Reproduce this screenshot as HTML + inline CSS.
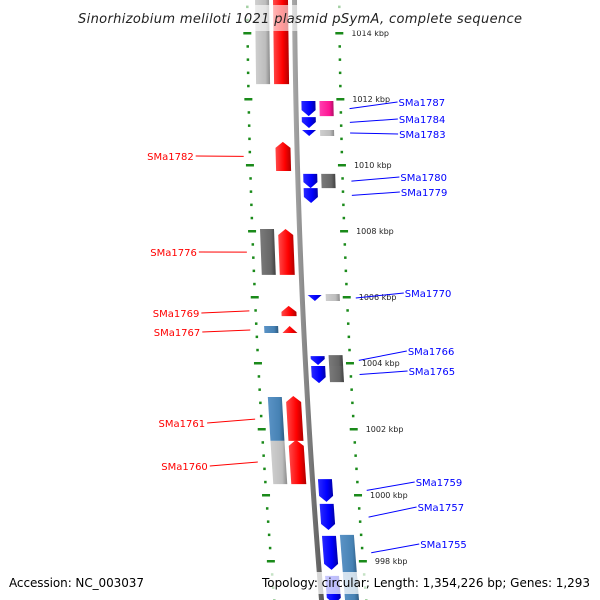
<!DOCTYPE html>
<html><head><meta charset="utf-8"><style>
html,body{margin:0;padding:0;background:#fff}
svg{display:block}
text{font-family:"DejaVu Sans","Liberation Sans",sans-serif}
</style></head><body>
<svg id="map" width="600" height="600" viewBox="0 0 600 600" xmlns="http://www.w3.org/2000/svg">
<defs>
<linearGradient id="gRed" x1="0" x2="1"><stop offset="0" stop-color="#ff4a4a"/><stop offset="0.6" stop-color="#ff0000"/><stop offset="1" stop-color="#b00000"/></linearGradient>
<linearGradient id="gBlue" x1="0" x2="1"><stop offset="0" stop-color="#2a2aff"/><stop offset="0.6" stop-color="#0000ff"/><stop offset="1" stop-color="#0000a8"/></linearGradient>
<linearGradient id="gGray" x1="0" x2="1"><stop offset="0" stop-color="#cfcfcf"/><stop offset="0.7" stop-color="#bdbdbd"/><stop offset="1" stop-color="#8a8a8a"/></linearGradient>
<linearGradient id="gDark" x1="0" x2="1"><stop offset="0" stop-color="#7a7a7a"/><stop offset="0.7" stop-color="#666"/><stop offset="1" stop-color="#404040"/></linearGradient>
<linearGradient id="gSteel" x1="0" x2="1"><stop offset="0" stop-color="#5b93c6"/><stop offset="0.7" stop-color="#4682b4"/><stop offset="1" stop-color="#2d5a80"/></linearGradient>
<linearGradient id="gPink" x1="0" x2="1"><stop offset="0" stop-color="#ff40b0"/><stop offset="0.7" stop-color="#ff1493"/><stop offset="1" stop-color="#b00e66"/></linearGradient>
<linearGradient id="gBack" x1="0" x2="1"><stop offset="0" stop-color="#aaa"/><stop offset="0.5" stop-color="#808080"/><stop offset="1" stop-color="#555"/></linearGradient>
</defs>
<g id="ticks"></g>
<g id="backbone"></g>
<g id="features"></g>
<g id="labels"></g>
<rect x="76" y="5" width="448" height="26" fill="#fff" opacity="0.6"/>
<text x="300" y="23" text-anchor="middle" font-size="13" font-style="italic" fill="#222" textLength="444">Sinorhizobium meliloti 1021 plasmid pSymA, complete sequence</text>
<rect x="256" y="572" width="338" height="22" fill="#fff" opacity="0.75"/>
<text x="9" y="587" font-size="12" fill="#000" textLength="135">Accession: NC_003037</text>
<text x="590" y="587" text-anchor="end" font-size="12" fill="#000" textLength="328">Topology: circular; Length: 1,354,226 bp; Genes: 1,293</text>
</svg>
<script>
// ruler data (kbp)
const majorTicks = [1014, 1012, 1010, 1008, 1006, 1004, 1002, 1000, 998];
const majorLabels = ["1014 kbp","1012 kbp","1010 kbp","1008 kbp","1006 kbp","1004 kbp","1002 kbp","1000 kbp","998 kbp"];
// feature arrays: name, start kbp (top), end kbp (bottom), column, kind, color
const featNames = ["top-gray","top-red","SMa1782","SMa1776-box","SMa1776","SMa1769","SMa1767-box","SMa1767","SMa1761-box","SMa1761","SMa1760-box","SMa1760",
 "SMa1787","SMa1787-box","SMa1784","SMa1783","SMa1783-box","SMa1780","SMa1780-box","SMa1779","SMa1770","SMa1770-box","SMa1766","SMa1766-box","SMa1765","SMa1765-box","SMa1759","SMa1757","SMa1755","SMa1755-box","bottom-blue","bottom-box"];
const featTop = [1015.2,1015.2,1010.70,1008.06,1008.06,1005.73,1005.12,1005.12,1002.97,1003.00,1001.64,1001.67,
 1011.94,1011.94,1011.45,1011.06,1011.06,1009.73,1009.73,1009.30,1006.06,1006.09,1004.21,1004.24,1003.91,1003.91,1000.48,999.73,998.76,998.79,997.55,997.55];
const featEnd = [1012.45,1012.45,1009.82,1006.67,1006.67,1005.42,1004.91,1004.91,1001.64,1001.64,1000.33,1000.33,
 1011.48,1011.48,1011.12,1010.88,1010.88,1009.30,1009.30,1008.85,1005.88,1005.88,1003.94,1003.91,1003.39,1003.42,999.79,998.94,997.73,997.27,996.7,996.7];
const featCol = ["A","B","B","A","B","B","A","B","A","B","A","B",
 "C","D","C","C","D","C","D","C","C","D","C","D","C","D","C","C","C","D","C","D"];
const featColor = ["gGray","gRed","gRed","gDark","gRed","gRed","gSteel","gRed","gSteel","gRed","gGray","gRed",
 "gBlue","gPink","gBlue","gBlue","gGray","gBlue","gDark","gBlue","gBlue","gGray","gBlue","gDark","gBlue","gDark","gBlue","gBlue","gBlue","gSteel","gBlue","gSteel"];
// labels
const labelNames = ["SMa1782","SMa1776","SMa1769","SMa1767","SMa1761","SMa1760","SMa1787","SMa1784","SMa1783","SMa1780","SMa1779","SMa1770","SMa1766","SMa1765","SMa1759","SMa1757","SMa1755"];
const labelKbp = [1010.26,1007.36,1005.58,1005.00,1002.30,1001.00,1011.71,1011.29,1010.97,1009.51,1009.08,1005.97,1004.08,1003.65,1000.14,999.33,998.25];
const labelSide = ["L","L","L","L","L","L","R","R","R","R","R","R","R","R","R","R","R"];
const labelTextY = [156,252,313,332,423,466,102,119,134,177,192,293,351,371,482,507,544];

const NS="http://www.w3.org/2000/svg";
function yOf(k){ return 33 + (1014 - k) * 33; }
function off(y){ return 0.0075*y + 6.25e-5*y*y; }
const colX = {A:[255,269], B:[273,288], C:[300,314], D:[318,332]};
function mk(tag, attrs, parent){ const e=document.createElementNS(NS,tag); for(const k in attrs) e.setAttribute(k,attrs[k]); parent.appendChild(e); return e; }

// backbone
const bb=document.getElementById('backbone');
let pts=[];
for(let y=-5;y<=605;y+=10) pts.push([292+off(y),y]);
let pts2=[];
for(let y=605;y>=-5;y-=10) pts2.push([297+off(y),y]);
const bbp=mk('polygon',{points:pts.concat(pts2).map(p=>p.join(',')).join(' '),fill:'url(#gBack)'},bb);



// ticks
const tg=document.getElementById('ticks');
for(let k=1015.2;k>=996.6;k-=0.4){
  const kk=Math.round(k*10)/10;
  const y=yOf(kk);
  const isMajor = majorTicks.some(m=>Math.abs(m-kk)<0.05);
  [[247,'left'],[339,'right']].forEach(([bx,side])=>{
    const x=bx+off(y);
    const r=mk('rect',{x:isMajor?x-4:x-1,y:y-1,width:isMajor?8:2.5,height:isMajor?2.5:2.5,fill:'#1a8a1a'},tg);
    
    
  });
}
majorTicks.forEach((m,i)=>{
  const y=yOf(m);
  const t=mk('text',{x:351+off(y),y:y+3,'font-size':8,fill:'#222'},tg);
  t.textContent=majorLabels[i];
  
  
});

// features
const fg=document.getElementById('features');
featNames.forEach((n,i)=>{
  const y1=yOf(featTop[i]), y2=yOf(featEnd[i]);
  const [a,b]=colX[featCol[i]];
  const o1=off(y1), o2=off(y2);
  const h=y2-y1;
  let p;
  const box = featCol[i]==='A'||featCol[i]==='D';
  if(box){
    p=[[a+o1,y1],[b+o1,y1],[b+o2,y2],[a+o2,y2]];
  } else if(featCol[i]==='B'){ // arrow up
    const hd=Math.min(6,h);
    const om=off(y1+hd), mid=(a+b)/2;
    if(h<=8) p=[[mid+o1,y1],[b+o2,y2],[a+o2,y2]];
    else p=[[mid+o1,y1],[b+om,y1+hd],[b+o2,y2],[a+o2,y2],[a+om,y1+hd]];
  } else { // arrow down
    const hd=Math.min(6,h);
    const om=off(y2-hd), mid=(a+b)/2;
    if(h<=8) p=[[a+o1,y1],[b+o1,y1],[mid+o2,y2]];
    else p=[[a+o1,y1],[b+o1,y1],[b+om,y2-hd],[mid+o2,y2],[a+om,y2-hd]];
  }
  const e=mk('polygon',{points:p.map(q=>q.join(',')).join(' '),fill:'url(#'+featColor[i]+')'},fg);
  
  
});

// labels
const lg=document.getElementById('labels');
labelNames.forEach((n,i)=>{
  const y=yOf(labelKbp[i]);
  const ty=labelTextY[i];
  const left=labelSide[i]==='L';
  const col=left?'#ff0000':'#0000ff';
  let x1,x2,tx;
  if(left){ x1=241+off(y)-0.5*0; x2=x1-48; tx=x2-2; }
  else { x1=348+off(y); x2=x1+48; tx=x2+1; }
  const ln=mk('line',{x1:x1,y1:y,x2:x2,y2:ty,stroke:col,'stroke-width':1},lg);
  
  
  const t=mk('text',{x:tx,y:ty+4,'font-size':10,fill:col,'text-anchor':left?'end':'start'},lg);
  t.textContent=n;
  
  
});
</script>
</body></html>
